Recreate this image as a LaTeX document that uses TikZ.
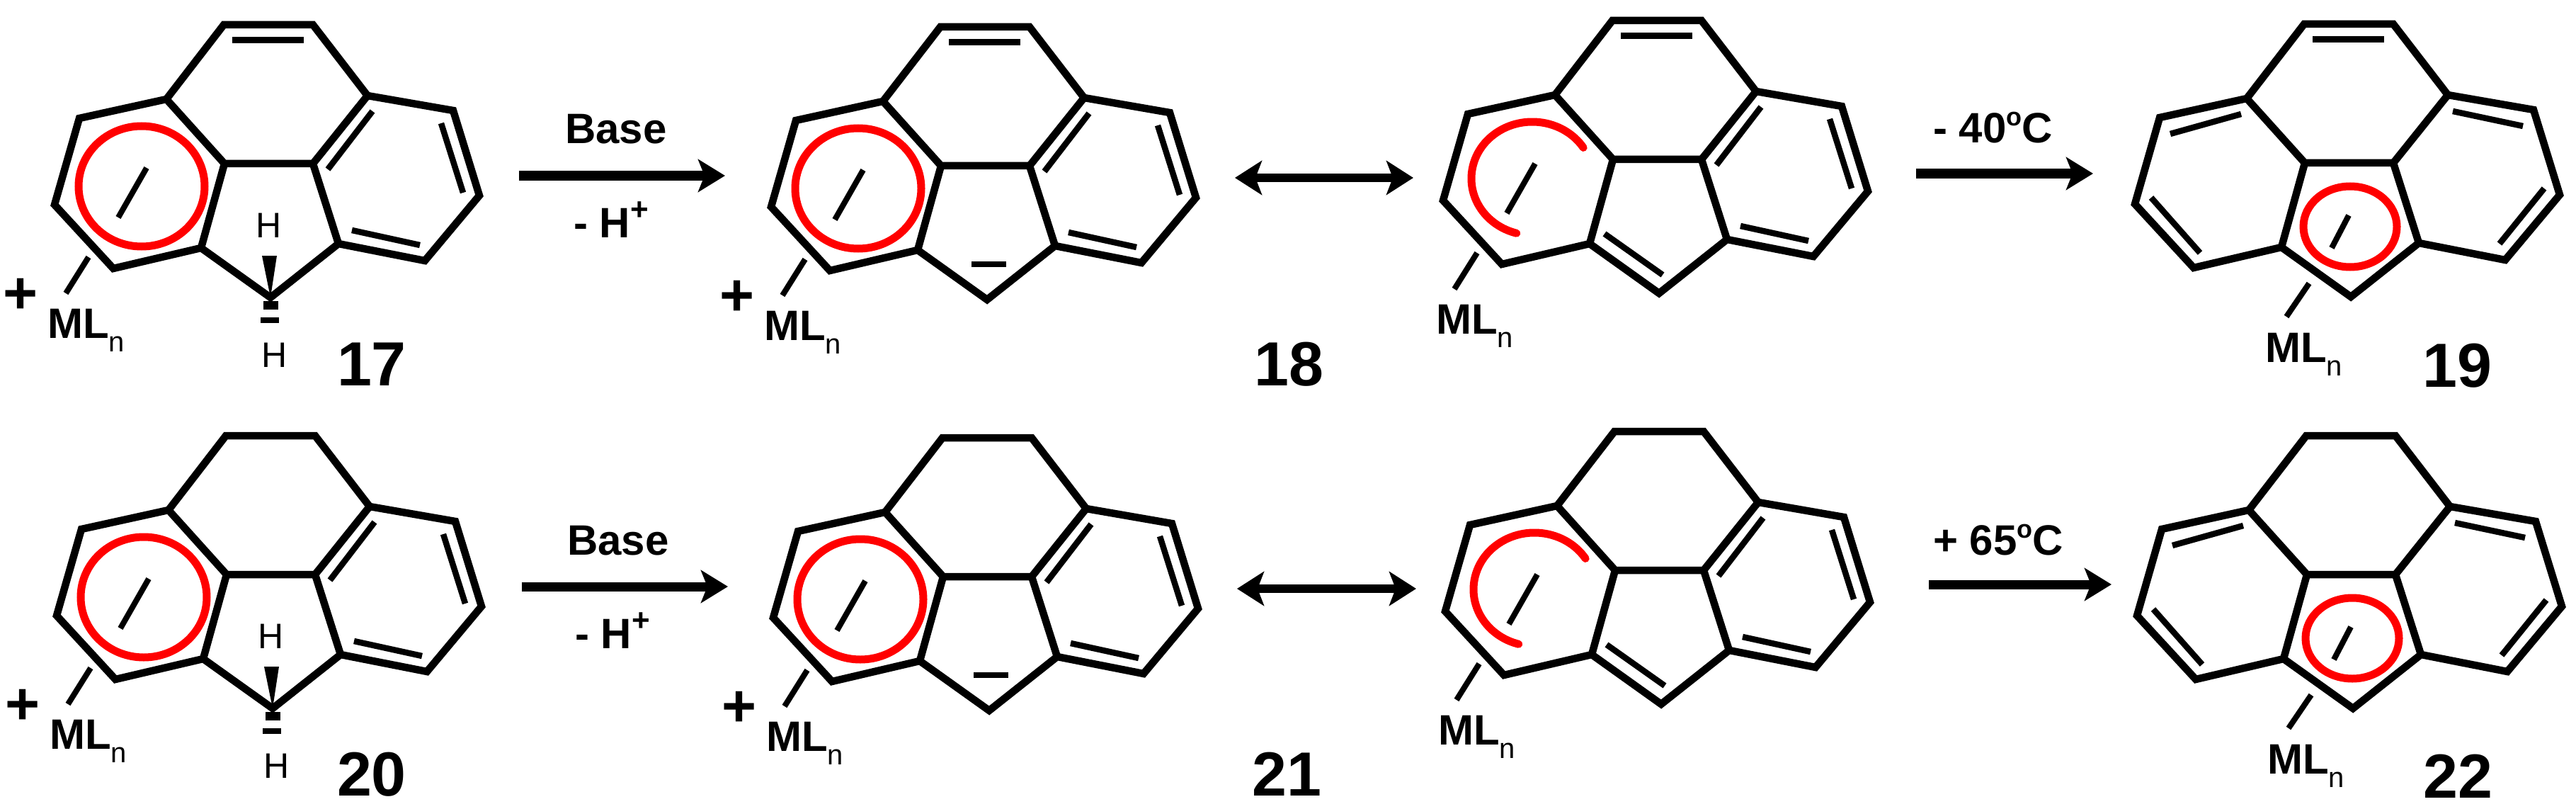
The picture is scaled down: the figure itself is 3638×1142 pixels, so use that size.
\documentclass[tikz,border=0pt]{standalone}
\usepackage{fontspec}
\setmainfont{Liberation Sans}
\usetikzlibrary{arrows.meta}
\tikzset{
  bond/.style={line width=10.5pt,line join=miter,miter limit=10,black},
  innerbond/.style={line width=8.5pt,black},
  redring/.style={line width=11pt,red},
  slashbond/.style={line width=8pt,black},
  rxn/.style={line width=13pt,-{Stealth[length=38pt,width=46pt,inset=9pt]}},
  reso/.style={line width=12pt,{Stealth[length=38pt,width=48pt,inset=9pt]}-{Stealth[length=38pt,width=48pt,inset=9pt]}},
  lab/.style={inner sep=0pt,anchor=base west,font=\fontsize{60}{60}\selectfont\bfseries},
  numlab/.style={inner sep=0pt,anchor=base,font=\fontsize{88}{88}\selectfont\bfseries},
  hlab/.style={inner sep=0pt,anchor=base,font=\fontsize{50}{50}\selectfont},
  pluslab/.style={inner sep=0pt,anchor=center,font=\fontsize{84}{84}\selectfont\bfseries},
}
\newcommand{\mlntext}{ML\raisebox{-19pt}{\fontsize{40}{40}\selectfont\mdseries n}}
\newcommand{\degtext}{\raisebox{24pt}{\fontsize{36}{36}\selectfont o}}
\newcommand{\plussup}{\raisebox{25pt}{\fontsize{44}{44}\selectfont +}}
% skeleton of one molecule, in the frame of compound 17
\newcommand{\skelmol}[1]{%
  \coordinate (#1T1) at (316,35);  \coordinate (#1T2) at (442,35);
  \coordinate (#1R1) at (519,135); \coordinate (#1R2) at (640,156);
  \coordinate (#1R3) at (677,276); \coordinate (#1R4) at (600,368);
  \coordinate (#1R5) at (478,344); \coordinate (#1C2) at (442,231);
  \coordinate (#1C1) at (317,231); \coordinate (#1L1) at (235,140);
  \coordinate (#1L2) at (112,167); \coordinate (#1L3) at (77,289);
  \coordinate (#1L4) at (160,379); \coordinate (#1L5) at (284,350);
  \coordinate (#1B) at (382,420);
  \draw[bond] (#1L1) -- (#1T1) -- (#1T2) -- (#1R1) -- (#1R2) -- (#1R3) -- (#1R4) -- (#1R5) -- (#1B) -- (#1L5) -- (#1L4) -- (#1L3) -- (#1L2) -- cycle;
  \draw[bond] (#1L1) -- (#1C1) -- (#1C2) -- (#1R1);
  \draw[bond] (#1C1) -- (#1L5);
  \draw[bond] (#1C2) -- (#1R5);
}
\newcommand{\topdouble}[1]{%
  \coordinate (#1ta) at (328,57); \coordinate (#1tb) at (429,57);
  \draw[innerbond,line width=9pt] (#1ta) -- (#1tb);
}
\newcommand{\rightdoubles}[1]{%
  \coordinate (#1ra) at (526,157); \coordinate (#1rb) at (463,239);
  \coordinate (#1rc) at (623,174); \coordinate (#1rd) at (654,272);
  \coordinate (#1re) at (497,325); \coordinate (#1rf) at (593,346);
  \draw[innerbond] (#1ra) -- (#1rb);
  \draw[innerbond] (#1rc) -- (#1rd);
  \draw[innerbond] (#1re) -- (#1rf);
}
\newcommand{\mlbond}[1]{%
  \coordinate (#1ma) at (125,363); \coordinate (#1mb) at (93,414);
  \draw[slashbond] (#1ma) -- (#1mb);
  \node[lab] (#1ml) at (67,477) {\mlntext};
  \coordinate (#1sa) at (207,237); \coordinate (#1sb) at (167,307);
  \draw[slashbond] (#1sa) -- (#1sb);
}
\newcommand{\ringfull}[1]{%
  \coordinate (#1cen) at (200,263);
  \draw[redring] (#1cen) ellipse [x radius=89,y radius=85];
  \node[pluslab] (#1plus) at (29,418) {+};
}
\newcommand{\ringarc}[1]{%
  \coordinate (#1cen) at (203,258);
  \draw[redring,line cap=round] (#1cen) ++(-33:86 and 80) arc [start angle=-33,end angle=-255,x radius=86,y radius=80];
}
\newcommand{\typeC}[1]{%
  \skelmol{#1}
  \coordinate (#1ca) at (127,190); \coordinate (#1cb) at (227,162);
  \coordinate (#1cc) at (526,158); \coordinate (#1cd) at (625,179);
  \coordinate (#1ce) at (655,267); \coordinate (#1cf) at (592,345);
  \coordinate (#1cg) at (100,280); \coordinate (#1ch) at (169,358);
  \draw[innerbond] (#1ca) -- (#1cb);
  \draw[innerbond] (#1cc) -- (#1cd);
  \draw[innerbond] (#1ce) -- (#1cf);
  \draw[innerbond] (#1cg) -- (#1ch);
  \coordinate (#1cen) at (381,321);
  \draw[redring] (#1cen) ellipse [x radius=66,y radius=57];
  \coordinate (#1sa) at (379,305); \coordinate (#1sb) at (355,351);
  \draw[slashbond] (#1sa) -- (#1sb);
  \coordinate (#1ma) at (323,401); \coordinate (#1mb) at (291,448);
  \draw[slashbond] (#1ma) -- (#1mb);
  \node[lab] (#1ml) at (261,512) {\mlntext};
}
\newcommand{\typeB}[1]{%
  \skelmol{#1}\rightdoubles{#1}\mlbond{#1}\ringarc{#1}
  \coordinate (#1ia) at (305,336); \coordinate (#1ib) at (387,394);
  \draw[innerbond] (#1ia) -- (#1ib);
}
\newcommand{\stereoH}[1]{%
  \fill (370,361) -- (391,361) -- (#1B) -- cycle;
  \fill (372,425) rectangle (393,437);
  \fill (368,448) rectangle (394,456);
  \node[hlab] (#1hu) at (380,335) {H};
  \node[hlab] (#1hd) at (388,518) {H};
}
\newcommand{\minuscharge}[1]{%
  \coordinate (#1na) at (360,370); \coordinate (#1nb) at (409,370);
  \draw[line width=8pt] (#1na) -- (#1nb);
}
\begin{document}
\begin{tikzpicture}[x=1pt,y=-1pt]
\useasboundingbox (0,0) rectangle (3638,1142);
% --- row 1 ---
\begin{scope}
  \skelmol{m17}\topdouble{m17}\rightdoubles{m17}\mlbond{m17}\ringfull{m17}\stereoH{m17}
\end{scope}
\begin{scope}[shift={(1012,3)}]
  \skelmol{m18}\topdouble{m18}\rightdoubles{m18}\mlbond{m18}\ringfull{m18}\minuscharge{m18}
\end{scope}
\begin{scope}[shift={(1961,-6)}]
  \typeB{m18b}\topdouble{m18b}
\end{scope}
\begin{scope}[shift={(2938,-1)}]
  \typeC{m19}\topdouble{m19}
\end{scope}
% --- row 2 ---
\begin{scope}[shift={(3,580)}]
  \skelmol{m20}\rightdoubles{m20}\mlbond{m20}\ringfull{m20}\stereoH{m20}
\end{scope}
\begin{scope}[shift={(1015,583)}]
  \skelmol{m21}\rightdoubles{m21}\mlbond{m21}\ringfull{m21}\minuscharge{m21}
\end{scope}
\begin{scope}[shift={(1964,574)}]
  \typeB{m21b}
\end{scope}
\begin{scope}[shift={(2941,580)}]
  \typeC{m22}
\end{scope}
% --- arrows ---
\coordinate (a1s) at (733,248);  \coordinate (a1e) at (1024,248);
\coordinate (a2s) at (1744,251); \coordinate (a2e) at (1996,251);
\coordinate (a3s) at (2706,245); \coordinate (a3e) at (2956,245);
\coordinate (a4s) at (737,828);  \coordinate (a4e) at (1028,828);
\coordinate (a5s) at (1747,831); \coordinate (a5e) at (2000,831);
\coordinate (a6s) at (2724,825); \coordinate (a6e) at (2982,825);
\draw[rxn] (a1s) -- (a1e);
\draw[reso] (a2s) -- (a2e);
\draw[rxn] (a3s) -- (a3e);
\draw[rxn] (a4s) -- (a4e);
\draw[reso] (a5s) -- (a5e);
\draw[rxn] (a6s) -- (a6e);
% --- labels ---
\node[lab] (base1) at (798,203) {Base};
\node[lab] (loss1) at (810,335) {- H\plussup};
\node[lab] (temp1) at (2730,202) {- 40\degtext C};
\node[lab] (base2) at (801,783) {Base};
\node[lab] (loss2) at (812,915) {- H\plussup};
\node[lab] (temp2) at (2730,783) {+ 65\degtext C};
\node[numlab] (n17) at (525,544) {17};
\node[numlab] (n18) at (1820,544) {18};
\node[numlab] (n19) at (3470,546) {19};
\node[numlab] (n20) at (525,1123) {20};
\node[numlab] (n21) at (1817,1123) {21};
\node[numlab] (n22) at (3471,1126) {22};
\end{tikzpicture}
\end{document}
